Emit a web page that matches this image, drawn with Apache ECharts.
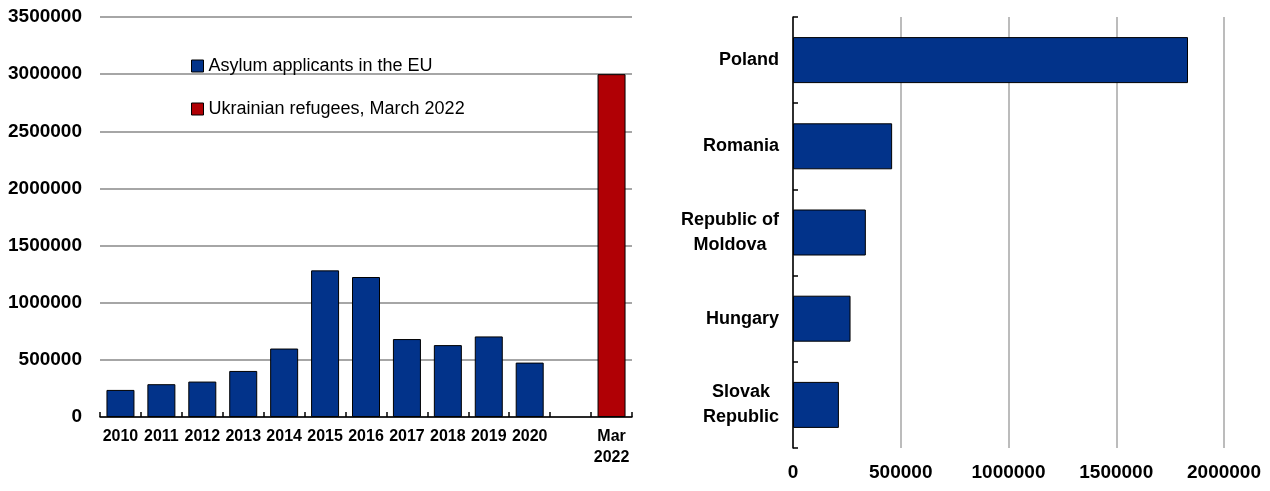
<!DOCTYPE html>
<html>
<head>
<meta charset="utf-8">
<script src="https://cdn.jsdelivr.net/npm/echarts@6/dist/echarts.min.js"></script>
<style>
html,body{margin:0;padding:0;background:#fff;}
#c{width:1270px;height:491px;}
</style>
</head>
<body>
<div id="c"></div>
<script>
// ---- data ----
const yearCategories = ['2010','2011','2012','2013','2014','2015','2016','2017','2018','2019','2020','','Mar\n2022'];
const asylumApplicants = [237000, 287000, 310000, 403000, 599000, 1283000, 1225000, 682000, 629000, 705000, 476000, null, null];
const ukrainianRefugees = [null, null, null, null, null, null, null, null, null, null, null, null, 3000000];
const leftTicks = ['0','500000','1000000','1500000','2000000','2500000','3000000','3500000'];

const countries = ['Poland', 'Romania', 'Republic of\nMoldova', 'Hungary', 'Slovak\nRepublic'];
const countryRefugees = [1833000, 460000, 338000, 267000, 213000];
const rightTicks = ['0','500000','1000000','1500000','2000000'];

const seriesNames = ['Asylum applicants in the EU', 'Ukrainian refugees, March 2022'];

// ---- styles ----
const FONT = "'Liberation Sans Narrow', 'Arial Narrow', 'Liberation Sans', Arial, sans-serif";
const BLUE = '#02338A';
const RED = '#B00005';
const GRID = '#A6A6A6';

const chart = echarts.init(document.getElementById('c'), null, {renderer: 'canvas'});

const option = {
  backgroundColor: '#ffffff',
  animation: false,
  legend: {
    data: seriesNames,
    orient: 'vertical',
    left: 186,
    top: 52,
    itemWidth: 12,
    itemHeight: 12,
    itemGap: 25,
    icon: 'rect',
    itemStyle: {borderColor: '#000', borderWidth: 1},
    textStyle: {fontFamily: FONT, fontSize: 18, color: '#000', padding: [0,0,0,0]}
  },
  grid: [
    {left: 100, top: 17, width: 532, height: 400},
    {left: 793, top: 17, width: 431, height: 431}
  ],
  xAxis: [
    {
      gridIndex: 0,
      type: 'category',
      data: yearCategories,
      axisLine: {show: true, lineStyle: {color: '#000', width: 1.5}},
      axisTick: {show: true, inside: true, length: 5, alignWithLabel: false, lineStyle: {color: '#000', width: 1.5}},
      axisLabel: {
        interval: 0, margin: 9, color: '#000',
        fontFamily: FONT, fontWeight: 'bold', fontSize: 16, lineHeight: 21
      },
      splitLine: {show: false}
    },
    {
      gridIndex: 1,
      type: 'value',
      min: 0, max: 2000000, interval: 500000,
      axisLine: {show: false},
      axisTick: {show: false},
      axisLabel: {
        margin: 15, color: '#000',
        fontFamily: FONT, fontWeight: 'bold', fontSize: 19,
        formatter: (v) => rightTicks[Math.round(v / 500000)]
      },
      splitLine: {show: true, lineStyle: {color: GRID, width: 1.5}}
    }
  ],
  yAxis: [
    {
      gridIndex: 0,
      type: 'value',
      min: 0, max: 3500000, interval: 500000,
      axisLine: {show: false},
      axisTick: {show: false},
      axisLabel: {
        margin: 18, color: '#000',
        fontFamily: FONT, fontWeight: 'bold', fontSize: 19,
        formatter: (v) => leftTicks[Math.round(v / 500000)]
      },
      splitLine: {show: true, lineStyle: {color: GRID, width: 2}}
    },
    {
      gridIndex: 1,
      type: 'category',
      data: countries,
      inverse: true,
      axisLine: {show: true, lineStyle: {color: '#000', width: 1.5}},
      axisTick: {show: true, inside: true, length: 5, lineStyle: {color: '#000', width: 1.5}},
      axisLabel: {
        margin: 14, color: '#000',
        fontFamily: FONT, fontWeight: 'bold', fontSize: 18,
        formatter: (v) => v.split('\n').map(s => '{c|' + s + '}').join('\n'),
        rich: {
          c: {fontFamily: FONT, fontWeight: 'bold', fontSize: 18, lineHeight: 25, color: '#000', align: 'center'}
        }
      },
      splitLine: {show: false}
    }
  ],
  series: [
    {
      name: seriesNames[0],
      type: 'bar',
      xAxisIndex: 0, yAxisIndex: 0,
      stack: 'left',
      barWidth: 28,
      data: asylumApplicants,
      itemStyle: {color: BLUE, borderColor: '#000', borderWidth: 1}
    },
    {
      name: seriesNames[1],
      type: 'bar',
      xAxisIndex: 0, yAxisIndex: 0,
      stack: 'left',
      barWidth: 28,
      data: ukrainianRefugees,
      itemStyle: {color: RED, borderColor: '#000', borderWidth: 1}
    },
    {
      name: 'Refugees by country',
      type: 'bar',
      xAxisIndex: 1, yAxisIndex: 1,
      barWidth: 46,
      data: countryRefugees,
      itemStyle: {color: BLUE, borderColor: '#000', borderWidth: 1}
    }
  ]
};

chart.setOption(option);
</script>
</body>
</html>
